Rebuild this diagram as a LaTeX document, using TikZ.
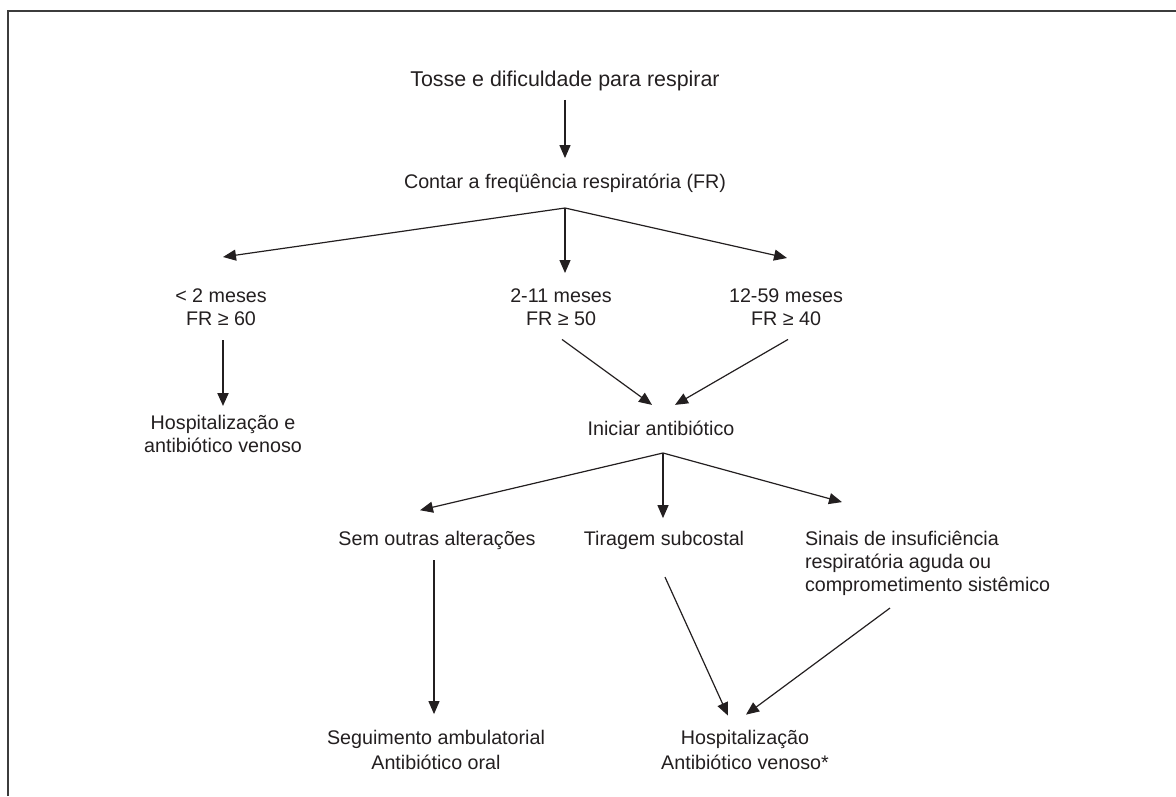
\documentclass[tikz,border=0pt]{standalone}
\usepackage{fontspec}
\setmainfont{Liberation Sans}
\usetikzlibrary{arrows.meta,calc}
\definecolor{ink}{RGB}{35,31,32}
\definecolor{framegray}{RGB}{60,60,60}
\begin{document}
\begin{tikzpicture}[x=1pt,y=-1pt,
  lbl/.style={inner sep=0pt, outer sep=0pt, text=ink, align=center, font=\fontsize{19.7}{22.5}\selectfont},
  lblb/.style={lbl, font=\fontsize{19.7}{24.5}\selectfont},
  arr/.style={draw=ink, line width=1.2pt, -{Triangle[length=13pt,width=11pt]}},
  thickarr/.style={arr, line width=2pt}]
\useasboundingbox (0,0) rectangle (1176,796);
\draw[framegray, line width=2pt] (7.7,796) -- (7.7,11) -- (1176,11);

\node[lbl, anchor=base, font=\fontsize{21.4}{24}\selectfont] (tosse) at (565,86) {Tosse e dificuldade para respirar};
\node[lbl, anchor=base] (contar) at (565,188) {Contar a freqüência respiratória (FR)};
\coordinate (b1) at (565,208);
\node[lbl, anchor=north] (lt2) at (221,289) {< 2 meses\\FR ≥ 60};
\node[lbl, anchor=north] (m211) at (561,289) {2-11 meses\\FR ≥ 50};
\node[lbl, anchor=north] (m1259) at (786,289) {12-59 meses\\FR ≥ 40};
\node[lbl, anchor=north] (hosp1) at (223,415.6) {Hospitalização e\\antibiótico venoso};
\node[lbl, anchor=base] (inic) at (661,435) {Iniciar antibiótico};
\coordinate (b2) at (663,453);
\node[lbl, anchor=base] (sem) at (437,545) {Sem outras alterações};
\node[lbl, anchor=base] (tir) at (664,545) {Tiragem subcostal};
\node[lbl, anchor=north west, align=left, font=\fontsize{19.7}{23}\selectfont] (sinais) at (805,531.6) {Sinais de insuficiência\\respiratória aguda ou\\comprometimento sistêmico};
\node[lblb, anchor=north] (seg) at (436,730.6) {Seguimento ambulatorial\\Antibiótico oral};
\node[lblb, anchor=north] (hosp2) at (745,730.6) {Hospitalização\\Antibiótico venoso*};

\draw[arr] ($(tosse.south)+(0,9.5)$) -- ($(contar.north)+(0,-15.4)$);
\draw[arr] (b1) -- ($(lt2.north)+(2,-32)$);
\draw[arr] (b1) -- ($(b1 |- m211.north)+(0,-16)$);
\draw[arr] (b1) -- ($(m1259.north)+(1,-31)$);
\draw[thickarr] ($(lt2.south)+(2,15)$) -- ($(hosp1.north)+(0,-9.6)$);
\draw[arr] ($(m211.south)+(1,14)$) -- ($(inic.north)+(-9,-15.6)$);
\draw[arr] ($(m1259.south)+(2,14)$) -- ($(inic.north)+(14,-15.6)$);
\draw[arr] (b2) -- ($(sem.north)+(-17,-20.5)$);
\draw[arr] (b2) -- ($(b2 |- tir.north)+(0,-12.6)$);
\draw[arr] (b2) -- ($(sinais.north west)+(37,-29.5)$);
\draw[arr] ($(sem.south)+(-3,11)$) -- ($(seg.north)+(-2,-16.5)$);
\draw[arr] ($(tir.south)+(1,28)$) -- ($(hosp2.north)+(-17,-15)$);
\draw[arr] ($(sinais.south west)+(85,12)$) -- ($(hosp2.north)+(1,-16)$);
\end{tikzpicture}
\end{document}
